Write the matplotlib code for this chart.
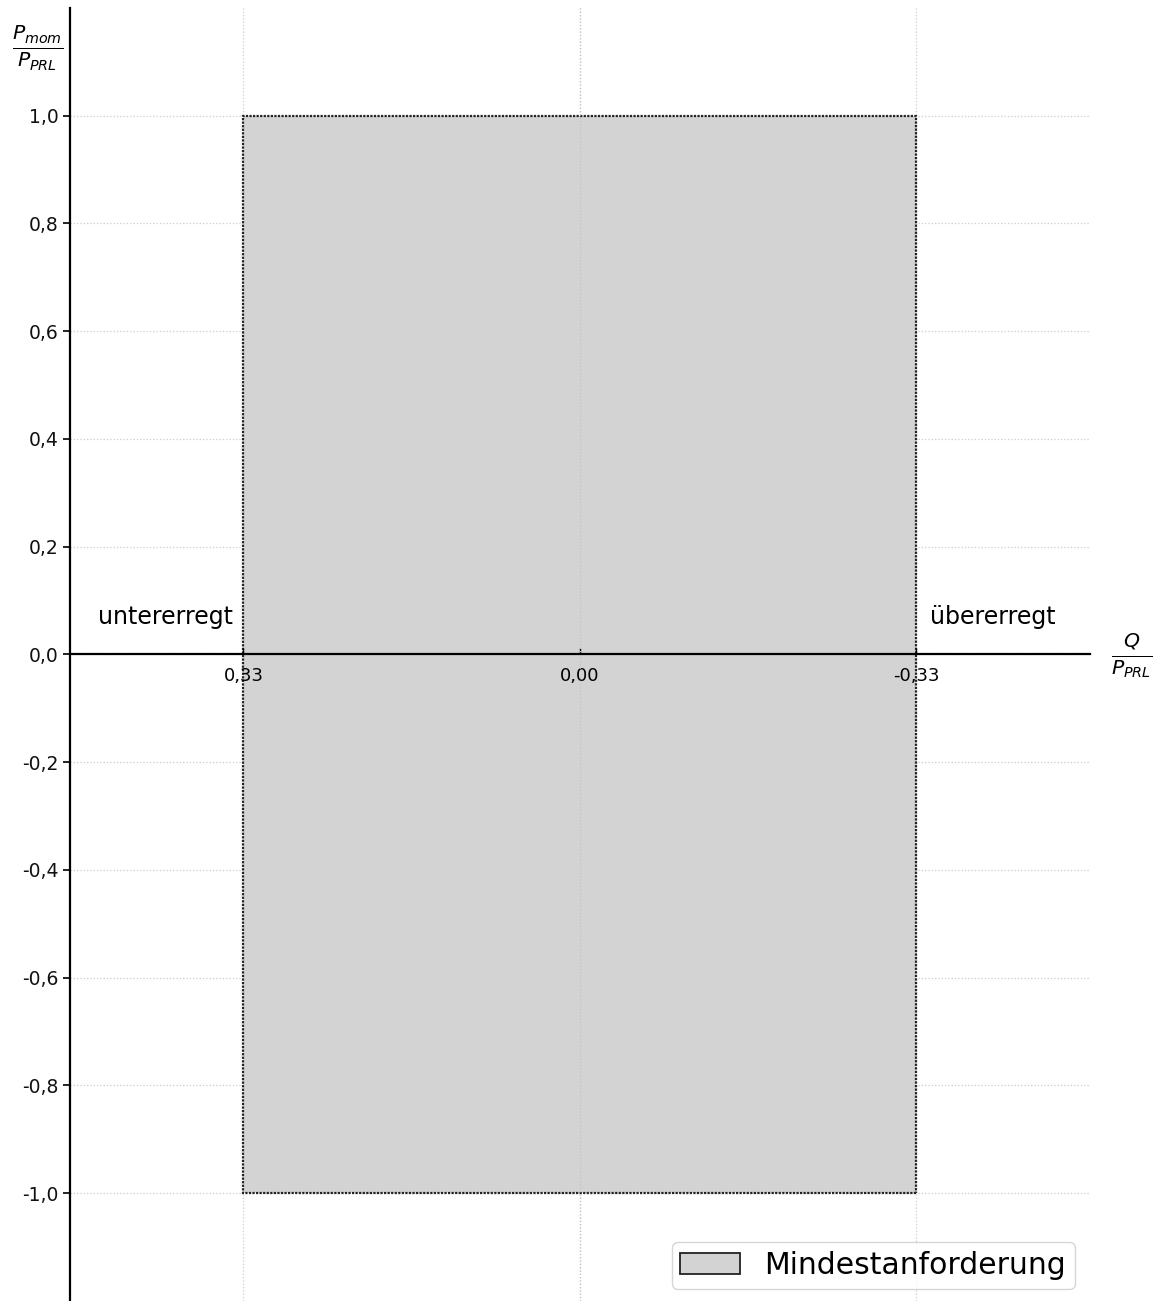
import matplotlib
matplotlib.use("Agg")
import matplotlib.pyplot as plt
from matplotlib.patches import Rectangle, Patch
from matplotlib.ticker import FuncFormatter

# Data
q_limits = [0.33, -0.33]          # Q/P_PRL limits (untererregt, übererregt)
p_limits = [-1.0, 1.0]            # P_mom/P_PRL limits
x_ticks = [0.33, 0.0, -0.33]
x_tick_labels = ["0,33", "0,00", "-0,33"]
y_ticks = [-1.0, -0.8, -0.6, -0.4, -0.2, 0.0, 0.2, 0.4, 0.6, 0.8, 1.0]
legend_label = "Mindestanforderung"
left_label = "untererregt"
right_label = "übererregt"

fig = plt.figure(figsize=(11.68, 13.01), dpi=100)
ax = fig.add_axes([0.06, 0.0, 0.873, 0.994])

ax.set_xlim(0.5, -0.5)
ax.set_ylim(-1.2, 1.2)

# grid
for yt in y_ticks:
    ax.axhline(yt, color="#cccccc", linestyle=":", linewidth=0.9, zorder=0)
for xt in x_ticks:
    ax.axvline(xt, color="#cccccc", linestyle=":", linewidth=0.9, zorder=0)

rect = Rectangle((min(q_limits), p_limits[0]), max(q_limits) - min(q_limits),
                 p_limits[1] - p_limits[0], facecolor="lightgray",
                 edgecolor="#222222", linestyle=(0, (1, 0.6)), linewidth=1.6, zorder=1)
ax.add_patch(rect)
ax.axvline(0.0, color="#c4c4c4", linestyle=":", linewidth=0.9, zorder=2)

# spines
ax.spines["top"].set_visible(False)
ax.spines["right"].set_visible(False)
ax.spines["bottom"].set_position(("data", 0))
ax.spines["left"].set_linewidth(1.6)
ax.spines["bottom"].set_linewidth(1.6)
ax.spines["bottom"].set_zorder(3)

ax.set_xticks(x_ticks)
ax.set_xticklabels(x_tick_labels)
ax.set_yticks(y_ticks)
ax.yaxis.set_major_formatter(FuncFormatter(lambda v, p: f"{v:.1f}".replace(".", ",")))
ax.tick_params(axis="y", labelsize=13.5, length=5, width=1.3, colors="#111111")
ax.tick_params(axis="x", labelsize=13, length=4, width=1, direction="in", pad=9)

ax.text(0.4725, 0.07, left_label, fontsize=17, va="center", ha="left")
ax.text(-0.343, 0.07, right_label, fontsize=17, va="center", ha="left")

fig.text(38 / 1168, 1 - 48 / 1301, r"$\frac{P_{mom}}{P_{PRL}}$", fontsize=21,
         ha="center", va="center")
fig.text(1132 / 1168, 1 - 656 / 1301, r"$\frac{Q}{P_{PRL}}$", fontsize=21,
         ha="center", va="center")

handle = Patch(facecolor="lightgray", edgecolor="#222222", linewidth=1.3, label=legend_label)
ax.legend(handles=[handle], loc="lower right", fontsize=21.5, frameon=True,
          bbox_to_anchor=(1.0, -0.002), handlelength=2.0, handleheight=0.7,
          borderpad=0.3)

fig.savefig("out.png", dpi=100)
